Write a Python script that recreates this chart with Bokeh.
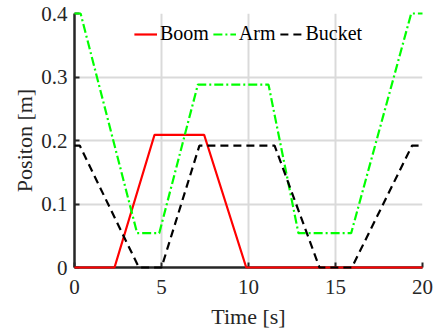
from bokeh.plotting import figure
from bokeh.models import Range1d, Legend, LegendItem, FixedTicker
from bokeh.embed import file_html
from bokeh.resources import INLINE

boom_t = [0, 2.3, 4.6, 7.45, 9.87, 20]
boom_y = [0, 0, 0.209, 0.209, 0, 0]
arm_t = [0, 0.35, 3.6, 4.87, 7.09, 11.15, 12.87, 15.9, 19.35, 20]
arm_y = [0.4, 0.4, 0.054, 0.054, 0.288, 0.288, 0.054, 0.054, 0.4, 0.4]
bucket_t = [0, 0.3, 3.7, 5.0, 7.18, 11.5, 14.08, 15.94, 19.4, 20]
bucket_y = [0.192, 0.192, 0, 0, 0.192, 0.192, 0, 0, 0.192, 0.192]
x_ticks = [0, 5, 10, 15, 20]
y_ticks = [0, 0.1, 0.2, 0.3, 0.4]

FONT = "Liberation Serif"
TXT = "#262626"

p = figure(width=438, height=331, output_backend="svg", toolbar_location=None,
           x_range=Range1d(0, 20), y_range=Range1d(0, 0.4),
           min_border_left=74, min_border_right=16, min_border_top=13, min_border_bottom=63)
p.outline_line_color = None
p.background_fill_color = "white"

for g in (p.xgrid, p.ygrid):
    g.grid_line_color = "#dadada"
    g.grid_line_width = 2

for ax in (p.xaxis, p.yaxis):
    ax.axis_line_color = TXT
    ax.axis_line_width = 2.5
    ax.major_tick_line_color = TXT
    ax.major_tick_line_width = 2
    ax.major_tick_in = 5
    ax.major_tick_out = 0
    ax.minor_tick_line_color = None
    ax.major_label_text_font = FONT
    ax.major_label_text_font_size = "21px"
    ax.major_label_text_color = TXT
    ax.axis_label_text_font = FONT
    ax.axis_label_text_font_size = "22px"
    ax.axis_label_text_font_style = "normal"
    ax.axis_label_text_color = TXT

p.xaxis.ticker = FixedTicker(ticks=x_ticks)
p.yaxis.ticker = FixedTicker(ticks=y_ticks)
p.yaxis.major_label_overrides = {0: "0", 0.1: "0.1", 0.2: "0.2", 0.3: "0.3", 0.4: "0.4"}
p.xaxis.axis_label = "Time [s]"
p.yaxis.axis_label = "Positon [m]"
p.xaxis.major_label_standoff = 12
p.yaxis.major_label_standoff = 7
p.xaxis.axis_label_standoff = 7
p.yaxis.axis_label_standoff = 1

r1 = p.line(boom_t, boom_y, line_color="#ff0000", line_width=2.2)
r2 = p.line(arm_t, arm_y, line_color="#00ff00", line_width=2.2, line_dash="9 3 2 3")
r3 = p.line(bucket_t, bucket_y, line_color="black", line_width=2.2, line_dash="8 5")
# draw the data above the axis lines, as in the reference
for r in (r1, r2, r3):
    r.level = "annotation"

legend = Legend(items=[LegendItem(label="Boom", renderers=[r1]),
                       LegendItem(label="Arm", renderers=[r2]),
                       LegendItem(label="Bucket", renderers=[r3])],
                location="top_center", orientation="horizontal",
                background_fill_alpha=0, border_line_color=None,
                label_text_font=FONT, label_text_font_size="20px", label_text_color="black",
                glyph_width=23, label_standoff=3, spacing=4, padding=4, margin=9)
p.add_layout(legend, "center")

open("out.html", "w").write(file_html(p, INLINE))
